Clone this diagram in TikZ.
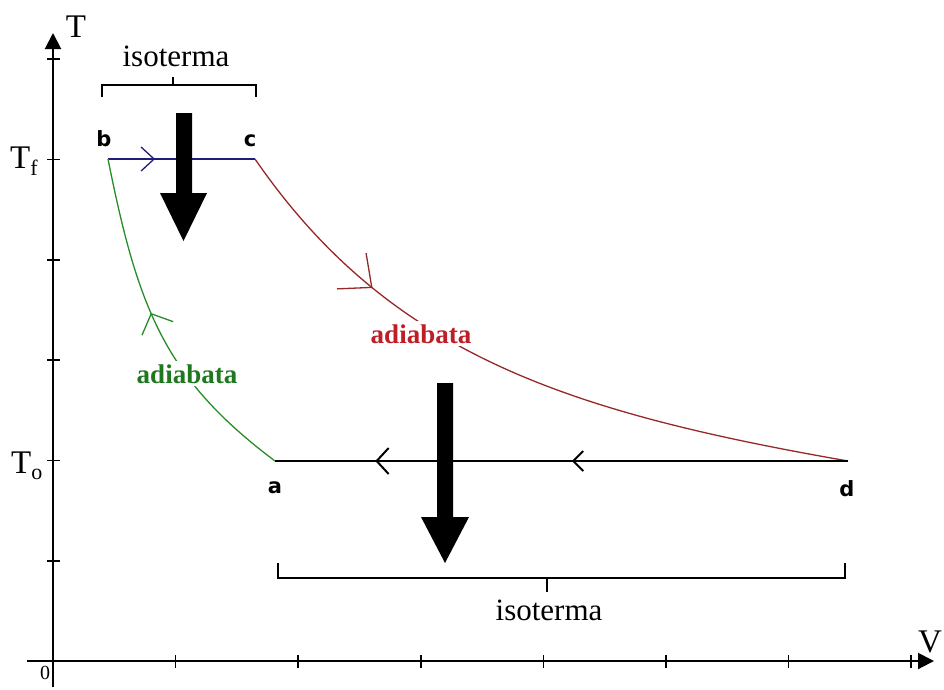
\documentclass[tikz,border=0pt]{standalone}
\usepackage{fontspec}
\setmainfont{Liberation Serif}
\newfontfamily\lblfont{DejaVu Sans}
\usetikzlibrary{arrows.meta,decorations.markings}
\definecolor{bluec}{RGB}{30,30,120}
\definecolor{redc}{RGB}{150,40,40}
\definecolor{redt}{RGB}{190,30,40}
\definecolor{greenc}{RGB}{40,140,40}
\definecolor{greent}{RGB}{30,120,30}
\tikzset{
  axisline/.style={line width=2pt,-{Triangle[length=16pt,width=16pt]}},
  tickline/.style={line width=1.6pt},
  procline/.style={line width=1.3pt},
  bracketline/.style={line width=1.6pt},
  bigarrow/.style={fill=black},
  ptlabel/.style={font=\lblfont\bfseries\fontsize{21}{21}\selectfont,inner sep=0pt,anchor=base},
  isolabel/.style={font=\fontsize{31}{31}\selectfont,inner sep=0pt,anchor=base},
  axlabel/.style={font=\fontsize{33}{33}\selectfont,inner sep=0pt,anchor=base},
  adlabel/.style={font=\bfseries\fontsize{27}{27}\selectfont,inner xsep=6pt,inner ysep=3pt,fill=white,anchor=base},
  chev/.style args={#1/#2/#3}{postaction={decorate,decoration={markings,
      mark=at position #1 with {\arrow{Straight Barb[length=#2,width=#3]}}}}}
}
\begin{document}
\begin{tikzpicture}[x=1pt,y=-1pt]
\useasboundingbox (0,0) rectangle (944,689);
% axes
\coordinate (ybot) at (53,687);
\coordinate (ytop) at (53,33);
\coordinate (xleft) at (27,661);
\coordinate (xright) at (934,661);
\draw[axisline] (ybot) -- (ytop);
\draw[axisline] (xleft) -- (xright);
\foreach \k in {1,...,7} {
  \draw[tickline] (53+122.6*\k,655) -- (53+122.6*\k,668);
}
\foreach \k in {1,...,6} {
  \draw[tickline] (47,661-100.3*\k) -- (60,661-100.3*\k);
}
\node[axlabel] (Tlab) at (76,37) {T};
\node[axlabel] (Vlab) at (930,652) {V};
\node[font=\fontsize{20}{20}\selectfont,inner sep=0pt] (zero) at (45,673) {0};
\node[axlabel,anchor=base west] (Tf) at (10,168) {T\raisebox{-7pt}{\fontsize{22}{22}\selectfont f}};
\node[axlabel,anchor=base west] (To) at (11,473) {T\raisebox{-6pt}{\fontsize{22}{22}\selectfont o}};
% state points
\coordinate (b) at (108,159);
\coordinate (c) at (255,159);
\coordinate (a) at (275,461);
\coordinate (d) at (848,461);
% processes
\draw[procline,bluec,chev=0.32/13pt/24pt] (b) -- (c);
\draw[procline,redc,chev=0.255/26pt/46pt] (c) .. controls (390,355) and (568,412) .. (d);
\draw[procline,greenc,chev=0.55/16pt/34pt] (a) .. controls (165,378.5) and (138,309) .. (b);
\draw[line width=2pt,black,chev=0.482/10pt/20pt,chev=0.825/12pt/26pt] (d) -- (a);
% point labels
\node[ptlabel] (lb) at (104,146) {b};
\node[ptlabel] (lc) at (250,146) {c};
\node[ptlabel] (la) at (275,493) {a};
\node[ptlabel] (ld) at (847,496) {d};
% adiabata labels
\node[adlabel,text=redt] (adr) at (421,343) {adiabata};
\node[adlabel,text=greent] (adg) at (187,383) {adiabata};
% brackets
\draw[bracketline] (102,97) -- (102,85) -- (256,85) -- (256,97);
\draw[bracketline] (173,85) -- (173,77);
\node[isolabel] (isotop) at (176,66) {isoterma};
\draw[bracketline] (278,563) -- (278,578) -- (845,578) -- (845,563);
\draw[bracketline] (547,578) -- (547,592);
\node[isolabel] (isobot) at (549,620) {isoterma};
% big arrows
\fill[bigarrow] (176,113) -- (192,113) -- (192,193) -- (207,193) -- (183.5,241) -- (160,193) -- (176,193) -- cycle;
\fill[bigarrow] (437,383) -- (453,383) -- (453,517) -- (469,517) -- (445,563) -- (421,517) -- (437,517) -- cycle;
\end{tikzpicture}
\end{document}
